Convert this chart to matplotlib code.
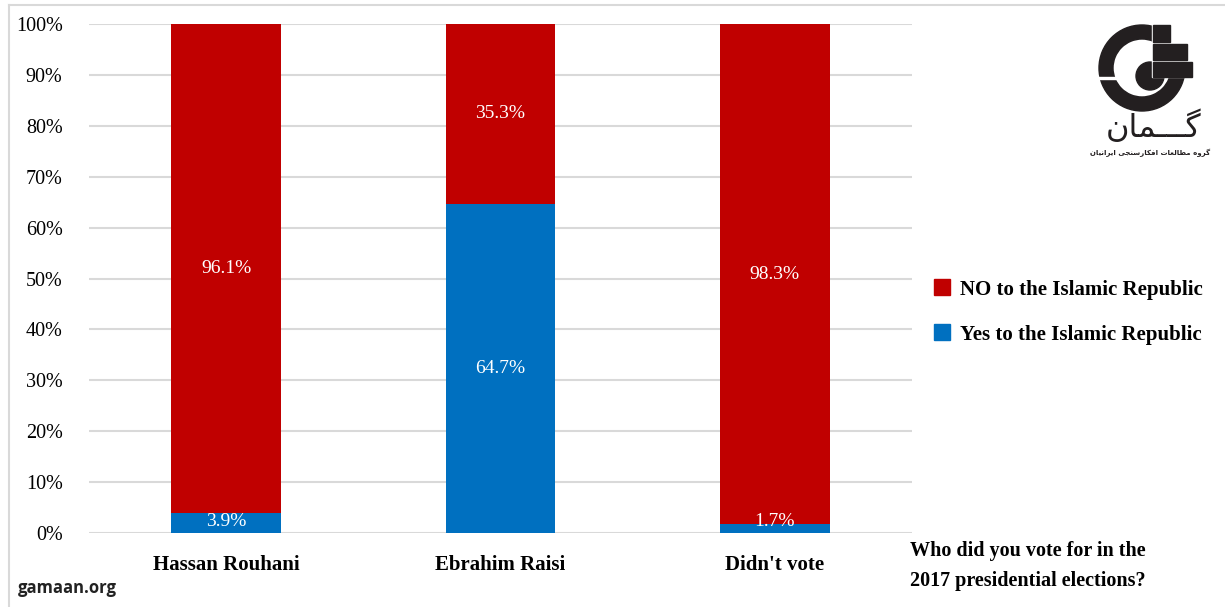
import matplotlib
matplotlib.use("Agg")
import matplotlib.pyplot as plt
from matplotlib.patches import Wedge, Rectangle, Circle
from matplotlib.lines import Line2D
import numpy as np

# data
candidates = ["Hassan Rouhani", "Ebrahim Raisi", "Didn't vote"]
yes_share = [3.9, 64.7, 1.7]
no_share = [96.1, 35.3, 98.3]
legend_labels = ["NO to the Islamic Republic", "Yes to the Islamic Republic"]
y_ticks = [0, 10, 20, 30, 40, 50, 60, 70, 80, 90, 100]
question = "Who did you vote for in the\n2017 presidential elections?"
source = "gamaan.org"
# logo text, written in Arabic presentation forms (visual order) so it joins up
logo_name = "\uFEE5\uFE8E\uFEE4\u0640\u0640\u0640\uFB94"
logo_sub = ("\uFEE5\uFE8E\uFBFF\uFEE7\uFE8D\uFEAE\uFBFE\uFE8D "
            "\uFBFD\uFEA0\uFEE8\uFEB3\uFEAD\uFE8E\uFB91\uFED3\uFE8D "
            "\uFE95\uFE8E\uFECC\uFEDF\uFE8E\uFEC4\uFEE3 "
            "\uFEE9\uFEED\uFEAE\uFB94")

RED = "#C00000"
BLUE = "#0070C0"
GRID = "#D9D9D9"
SERIF = "Liberation Serif"

W, H = 1225, 607
fig = plt.figure(figsize=(W / 100, H / 100), dpi=100)

# light frame around the chart area (runs off right and bottom)
fig.add_artist(Line2D([9 / W, 9 / W], [0, 1 - 5 / H], color=GRID, lw=1.5))
fig.add_artist(Line2D([9 / W, 1], [1 - 5 / H, 1 - 5 / H], color=GRID, lw=1.5))

ax = fig.add_axes([89 / W, 1 - 533 / H, (912 - 89) / W, (533 - 24) / H])
x = np.arange(len(candidates))
ax.bar(x, yes_share, width=0.4, color=BLUE, zorder=3)
ax.bar(x, no_share, width=0.4, bottom=yes_share, color=RED, zorder=3)

for xi, yv, nv in zip(x, yes_share, no_share):
    ax.text(xi, max(yv / 2, 2.2), f"{yv}%", ha="center", va="center",
            color="white", fontsize=14, family=SERIF, zorder=4)
    ax.text(xi, yv + nv / 2, f"{nv}%", ha="center", va="center",
            color="white", fontsize=14, family=SERIF, zorder=4)

ax.set_xlim(-0.5, 2.5)
ax.set_ylim(0, 100)
ax.set_yticks(y_ticks)
ax.set_yticklabels([f"{v}%" for v in y_ticks], family=SERIF, fontsize=14.5)
ax.set_xticks(x)
ax.set_xticklabels(candidates, family=SERIF, fontsize=15, fontweight="bold")
ax.tick_params(axis="y", length=0, pad=19)
ax.tick_params(axis="x", length=0, pad=16)
ax.yaxis.grid(True, color=GRID, lw=1.5, zorder=0)
for s in ax.spines.values():
    s.set_visible(False)

handles = [Line2D([], [], ls="none", marker="s", markersize=11, color=RED),
           Line2D([], [], ls="none", marker="s", markersize=11, color=BLUE)]
fig.legend(handles, legend_labels, loc="upper left",
           bbox_to_anchor=(915 / W, 1 - 261 / H), frameon=False,
           prop={"family": SERIF, "size": 15, "weight": "bold"},
           handlelength=0.8, handletextpad=0.45, labelspacing=1.2)

fig.text(1028 / W, 1 - 566 / H, question, ha="center", va="center",
         family=SERIF, fontsize=14.5, fontweight="bold", linespacing=1.7)
fig.text(18 / W, 1 - 588 / H, source, ha="left", va="center",
         family="Open Sans", fontsize=12, fontweight="bold", color="#222222")

# logo, drawn in pixel coordinates (y flipped)
lg = fig.add_axes([1085 / W, 1 - 165 / H, 130 / W, 155 / H])
lg.set_xlim(1085, 1215)
lg.set_ylim(H - 165, H - 10)
lg.axis("off")
ink = "#231F20"
cy = H - 68
lg.add_patch(Wedge((1142, cy), 43, 0, 360, width=14, color=ink))
lg.add_patch(Circle((1150, H - 76), 14, color=ink))
lg.add_patch(Rectangle((1151.5, H - 77), 50, 60, color="white"))
lg.add_patch(Rectangle((1095, H - 78.5), 36, 1.5, color="white"))
lg.add_patch(Rectangle((1153, H - 42), 17, 17, color=ink))
lg.add_patch(Rectangle((1153, H - 60), 34, 16, color=ink))
lg.add_patch(Rectangle((1153, H - 77), 39, 15, color=ink))
lg.text(1154, H - 127, logo_name, ha="center", va="center", fontsize=23,
        family="DejaVu Sans", color=ink)
lg.text(1150, H - 153, logo_sub, ha="center", va="center", fontsize=5,
        family="DejaVu Sans", fontweight="bold", color=ink)

fig.savefig("out.png", dpi=100)
